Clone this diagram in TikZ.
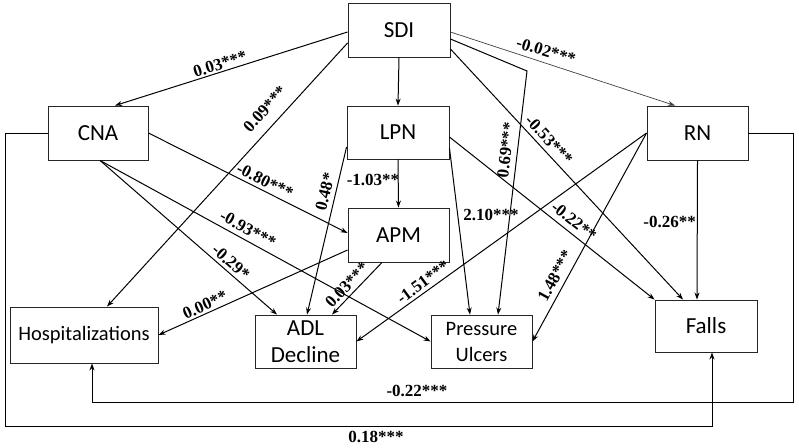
\documentclass[tikz,border=0pt]{standalone}
\usepackage{fontspec}
\newfontfamily\boxfont{Carlito}
\newfontfamily\labfont{Liberation Serif}
\usetikzlibrary{arrows.meta}
\begin{document}
\begin{tikzpicture}[x=1pt,y=-1pt,
  box/.style={draw=black!85, line width=0.9pt, rectangle, inner sep=0pt, align=center,
    font=\boxfont\fontsize{23}{27}\selectfont},
  conn/.style={line width=1pt, -{Stealth[length=7pt,width=5pt]}},
  thinconn/.style={line width=0.7pt, draw=black!75, -{Stealth[length=7pt,width=5pt]}},
  lab/.style={font=\labfont\bfseries\fontsize{17}{17}\selectfont, inner sep=0pt}
]
\useasboundingbox (0,0) rectangle (799,447);
% boxes
\node[box, minimum width=102pt, minimum height=54pt] (SDI) at (399,30) {SDI};
\node[box, minimum width=100pt, minimum height=54pt] (CNA) at (98,133) {CNA};
\node[box, minimum width=102pt, minimum height=53pt] (LPN) at (398,132.5) {LPN};
\node[box, minimum width=101pt, minimum height=54pt] (RN) at (697.5,133) {RN};
\node[box, minimum width=101pt, minimum height=54pt] (APM) at (398.5,235) {APM};
\node[box, minimum width=148pt, minimum height=56pt, font=\boxfont\fontsize{20.5}{24}\selectfont] (Hosp) at (84,335) {Hospitalizations};
\node[box, minimum width=101pt, minimum height=53pt] (ADL) at (305.5,341.5) {ADL\\Decline};
\node[box, minimum width=101pt, minimum height=53pt, font=\boxfont\fontsize{20.5}{26}\selectfont] (PU) at (481.5,341.5) {Pressure\\Ulcers};
\node[box, minimum width=102pt, minimum height=52pt] (Falls) at (706,326) {Falls};
% helper coordinates
\coordinate (bendPU) at (527,71);
\coordinate (cR) at (793,402);
\coordinate (cL) at (5,426);
% connectors
\draw[conn] ([yshift=-2pt]SDI.west) -- ([xshift=17pt]CNA.north);
\draw[conn] ([yshift=-13pt]SDI.west) -- ([xshift=23pt]Hosp.north);
\draw[conn] (SDI.south) -- (LPN.north);
\draw[thinconn] ([yshift=-2pt]SDI.east) -- ([xshift=-22.5pt]RN.north);
\draw[conn] ([yshift=-9pt]SDI.east) -- (bendPU) -- ([xshift=16.5pt]PU.north);
\draw[conn] ([yshift=-19pt]SDI.east) -- ([xshift=-23pt]Falls.north);
\draw[conn] (LPN.south) -- (APM.north);
\draw[conn] ([yshift=-14.5pt]LPN.west) -- ([xshift=1.5pt]ADL.north);
\draw[conn] ([yshift=-15.5pt]LPN.east) -- ([xshift=-11.5pt]PU.north);
\draw[conn] ([yshift=-4.5pt]LPN.east) -- (Falls.north west);
\draw[conn] (CNA.east) -- ([yshift=2pt]APM.west);
\draw[conn] ([xshift=2pt]CNA.south) -- ([xshift=-28.5pt]ADL.north);
\draw[conn] ([xshift=2pt]CNA.south) -- (PU.west);
\draw[conn] (RN.west) -- (ADL.east);
\draw[conn] (RN.west) -- (PU.east);
\draw[conn] (RN.south) -- ([xshift=-9pt]Falls.north);
\draw[conn] ([yshift=-15pt]APM.west) -- (Hosp.east);
\draw[conn] ([xshift=-16.5pt]APM.south) -- ([xshift=26.5pt]ADL.north);
\draw[conn] (RN.east) -| (cR) -| ([xshift=8pt]Hosp.south);
\draw[conn] (CNA.west) -| (cL) -| ([xshift=6pt]Falls.south);
% labels
\node[lab, rotate=17.6] (l1) at (220,64) {0.03***};
\node[lab, rotate=47.6] (l2) at (265,109) {0.09***};
\node[lab, rotate=-17] (l3) at (546,51) {-0.02***};
\node[lab, rotate=-47.1] (l4) at (549,140) {-0.53***};
\node[lab, rotate=83.2] (l5) at (506,150) {0.69***};
\node[lab, rotate=76.6] (l6) at (325,192) {0.48*};
\node[lab] (l7) at (373,180) {-1.03**};
\node[lab] (l8) at (491,215) {2.10***};
\node[lab, anchor=east] (l9) at (696,222) {-0.26**};
\node[lab, rotate=-38.4] (l10) at (574,221) {-0.22**};
\node[lab, rotate=-26.6] (l11) at (265,181) {-0.80***};
\node[lab, rotate=-28.8] (l12) at (248,229) {-0.93***};
\node[lab, rotate=-41.2] (l13) at (231,262) {-0.29*};
\node[lab, rotate=36.5] (l14) at (423,282) {-1.51***};
\node[lab, rotate=61.2] (l15) at (555,276) {1.48***};
\node[lab, rotate=24.1] (l16) at (205,305) {0.00**};
\node[lab, rotate=46.7] (l17) at (347,285) {0.03***};
\node[lab] (l18) at (417,391) {-0.22***};
\node[lab] (l19) at (376,437) {0.18***};
\end{tikzpicture}
\end{document}
